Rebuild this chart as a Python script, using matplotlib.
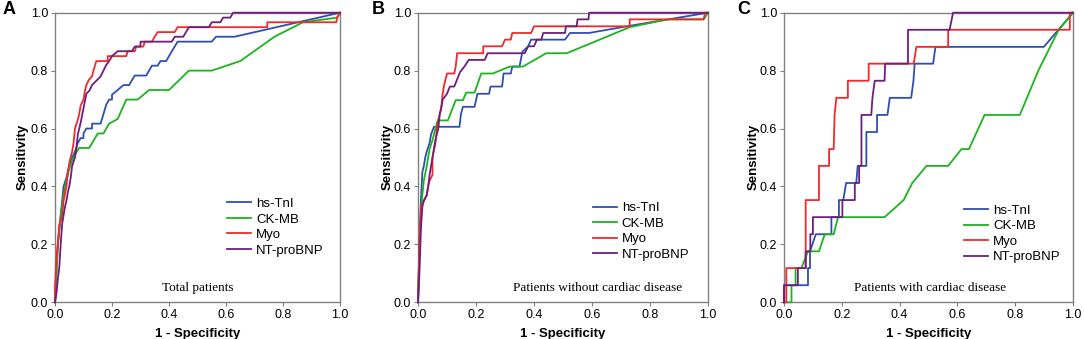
import numpy as np
import matplotlib
matplotlib.use("Agg")
import matplotlib.pyplot as plt

plt.rcParams["font.family"] = ["Liberation Sans", "DejaVu Sans"]

# ROC curve vertices: (1 - specificity, sensitivity)
MARKERS = ["hs-TnI", "CK-MB", "Myo", "NT-proBNP"]
COLORS = ["#2f4fb0", "#1cb41c", "#f42828", "#6c1f7c"]
PANELS = ["A", "B", "C"]
SUBTITLES = ["Total patients", "Patients without cardiac disease", "Patients with cardiac disease"]

A_TNI = [(0, 0), (0.005, 0.1), (0.01, 0.2), (0.02, 0.3), (0.03, 0.4), (0.04, 0.43), (0.05, 0.47),
         (0.06, 0.5), (0.07, 0.52), (0.08, 0.55), (0.09, 0.567), (0.1, 0.567), (0.1, 0.583), (0.11, 0.6),
         (0.13, 0.6), (0.13, 0.617), (0.16, 0.617), (0.165, 0.633), (0.17, 0.65), (0.18, 0.683),
         (0.19, 0.7), (0.2, 0.7), (0.2, 0.717), (0.22, 0.733), (0.24, 0.75), (0.26, 0.75), (0.27, 0.767),
         (0.28, 0.783), (0.32, 0.783), (0.33, 0.8), (0.34, 0.817), (0.36, 0.817), (0.37, 0.833),
         (0.39, 0.833), (0.4, 0.85), (0.41, 0.867), (0.42, 0.883), (0.43, 0.9), (0.55, 0.9),
         (0.565, 0.917), (0.63, 0.917), (1, 1)]
A_CKMB = [(0, 0), (0.005, 0.1), (0.01, 0.2), (0.02, 0.3), (0.03, 0.37), (0.04, 0.42), (0.05, 0.46),
          (0.06, 0.49), (0.07, 0.51), (0.085, 0.533), (0.12, 0.533), (0.15, 0.583), (0.17, 0.583),
          (0.19, 0.617), (0.22, 0.633), (0.25, 0.7), (0.29, 0.7), (0.33, 0.733), (0.4, 0.733),
          (0.47, 0.8), (0.55, 0.8), (0.65, 0.833), (0.77, 0.917), (0.87, 0.967), (0.99, 0.983), (1, 1)]
A_MYO = [(0, 0), (0, 0.05), (0.005, 0.15), (0.01, 0.2), (0.015, 0.27), (0.02, 0.28), (0.025, 0.3),
         (0.03, 0.35), (0.04, 0.4), (0.045, 0.45), (0.05, 0.48), (0.055, 0.5), (0.06, 0.52),
         (0.065, 0.55), (0.07, 0.6), (0.08, 0.63), (0.085, 0.65), (0.09, 0.68), (0.1, 0.7),
         (0.105, 0.73), (0.11, 0.75), (0.12, 0.77), (0.13, 0.78), (0.135, 0.8), (0.145, 0.833),
         (0.185, 0.833), (0.185, 0.85), (0.25, 0.85), (0.255, 0.867), (0.28, 0.867), (0.285, 0.883),
         (0.31, 0.883), (0.315, 0.9), (0.34, 0.9), (0.35, 0.917), (0.36, 0.933), (0.42, 0.933),
         (0.43, 0.95), (0.745, 0.95), (0.745, 0.967), (0.987, 0.967), (0.99, 0.983), (1, 1)]
A_BNP = [(0, 0), (0.005, 0.03), (0.01, 0.08), (0.015, 0.12), (0.02, 0.2), (0.025, 0.27), (0.03, 0.3),
         (0.035, 0.33), (0.04, 0.35), (0.045, 0.38), (0.05, 0.4), (0.055, 0.43), (0.06, 0.47),
         (0.07, 0.5), (0.075, 0.53), (0.08, 0.58), (0.09, 0.62), (0.1, 0.67), (0.11, 0.72),
         (0.12, 0.73), (0.13, 0.75), (0.14, 0.76), (0.15, 0.77), (0.16, 0.78), (0.17, 0.8),
         (0.18, 0.82), (0.19, 0.833), (0.2, 0.85), (0.22, 0.867), (0.27, 0.867), (0.28, 0.883),
         (0.3, 0.883), (0.3, 0.9), (0.41, 0.9), (0.42, 0.917), (0.45, 0.917), (0.47, 0.95),
         (0.54, 0.95), (0.55, 0.967), (0.58, 0.967), (0.59, 0.983), (0.615, 0.983), (0.625, 1.0), (1, 1)]

B_TNI = [(0, 0), (0.005, 0.2), (0.01, 0.35), (0.015, 0.45), (0.02, 0.47), (0.025, 0.5), (0.03, 0.52),
         (0.04, 0.55), (0.045, 0.58), (0.055, 0.606), (0.143, 0.606), (0.148, 0.65), (0.155, 0.675),
         (0.195, 0.675), (0.205, 0.72), (0.245, 0.72), (0.25, 0.745), (0.29, 0.745), (0.295, 0.79),
         (0.32, 0.79), (0.325, 0.814), (0.35, 0.814), (0.355, 0.84), (0.36, 0.865), (0.38, 0.884),
         (0.39, 0.907), (0.507, 0.907), (0.524, 0.93), (0.59, 0.93), (0.72, 0.953), (1, 1)]
B_CKMB = [(0, 0), (0.005, 0.2), (0.01, 0.3), (0.015, 0.37), (0.02, 0.42), (0.03, 0.47), (0.04, 0.53),
          (0.05, 0.56), (0.06, 0.6), (0.068, 0.628), (0.103, 0.628), (0.13, 0.698), (0.155, 0.698),
          (0.166, 0.724), (0.195, 0.724), (0.218, 0.79), (0.258, 0.79), (0.316, 0.814), (0.362, 0.814),
          (0.442, 0.86), (0.513, 0.86), (0.73, 0.95), (0.86, 0.977), (0.985, 0.977), (1, 1)]
B_MYO = [(0, 0), (0.005, 0.2), (0.01, 0.33), (0.02, 0.35), (0.03, 0.37), (0.035, 0.4), (0.04, 0.42),
         (0.05, 0.44), (0.05, 0.5), (0.06, 0.55), (0.065, 0.6), (0.07, 0.63), (0.08, 0.67),
         (0.085, 0.72), (0.09, 0.75), (0.095, 0.77), (0.1, 0.79), (0.125, 0.79), (0.13, 0.814),
         (0.135, 0.86), (0.225, 0.86), (0.225, 0.884), (0.29, 0.884), (0.3, 0.907), (0.32, 0.907),
         (0.325, 0.93), (0.39, 0.93), (0.4, 0.953), (0.73, 0.953), (0.73, 0.977), (0.985, 0.977),
         (0.99, 1.0), (1, 1)]
B_BNP = [(0, 0), (0.005, 0.1), (0.01, 0.25), (0.015, 0.33), (0.02, 0.35), (0.03, 0.37), (0.035, 0.4),
         (0.04, 0.44), (0.05, 0.5), (0.055, 0.53), (0.06, 0.56), (0.07, 0.6), (0.075, 0.65),
         (0.08, 0.67), (0.085, 0.7), (0.1, 0.72), (0.11, 0.745), (0.125, 0.745), (0.135, 0.77),
         (0.145, 0.795), (0.16, 0.814), (0.175, 0.837), (0.23, 0.837), (0.24, 0.86), (0.368, 0.86),
         (0.38, 0.884), (0.4, 0.884), (0.41, 0.907), (0.425, 0.907), (0.432, 0.93), (0.507, 0.93),
         (0.51, 0.953), (0.547, 0.953), (0.55, 0.977), (0.588, 0.977), (0.59, 1.0), (1, 1)]

C_TNI = [(0, 0), (0, 0.059), (0.083, 0.059), (0.083, 0.118), (0.09, 0.118), (0.09, 0.176),
         (0.11, 0.235), (0.164, 0.235), (0.164, 0.294), (0.19, 0.294), (0.19, 0.353), (0.205, 0.353),
         (0.215, 0.412), (0.25, 0.412), (0.255, 0.471), (0.285, 0.471), (0.285, 0.588), (0.322, 0.588),
         (0.322, 0.647), (0.358, 0.647), (0.366, 0.706), (0.44, 0.706), (0.448, 0.765), (0.452, 0.824),
         (0.516, 0.824), (0.524, 0.882), (0.899, 0.882), (1, 1)]
C_CKMB = [(0, 0), (0.026, 0), (0.026, 0.059), (0.04, 0.059), (0.04, 0.118), (0.06, 0.118),
          (0.083, 0.176), (0.121, 0.176), (0.141, 0.235), (0.172, 0.235), (0.187, 0.294),
          (0.348, 0.294), (0.414, 0.353), (0.444, 0.412), (0.493, 0.471), (0.568, 0.471),
          (0.614, 0.529), (0.64, 0.529), (0.694, 0.647), (0.816, 0.647), (0.88, 0.8), (0.95, 0.94), (1, 1)]
C_MYO = [(0, 0), (0.008, 0), (0.008, 0.118), (0.075, 0.118), (0.075, 0.353), (0.121, 0.353),
         (0.121, 0.471), (0.156, 0.471), (0.156, 0.529), (0.172, 0.529), (0.175, 0.647),
         (0.181, 0.706), (0.221, 0.706), (0.221, 0.765), (0.293, 0.765), (0.293, 0.824),
         (0.449, 0.824), (0.458, 0.882), (0.568, 0.882), (0.568, 0.941), (0.989, 0.941), (0.989, 1.0), (1, 1)]
C_BNP = [(0, 0), (0, 0.059), (0.048, 0.059), (0.048, 0.118), (0.075, 0.118), (0.075, 0.176),
         (0.091, 0.176), (0.091, 0.235), (0.1, 0.235), (0.1, 0.294), (0.202, 0.294), (0.202, 0.353),
         (0.245, 0.353), (0.245, 0.412), (0.26, 0.412), (0.26, 0.471), (0.268, 0.471), (0.268, 0.647),
         (0.302, 0.647), (0.306, 0.706), (0.314, 0.765), (0.348, 0.765), (0.35, 0.824), (0.429, 0.824),
         (0.429, 0.941), (0.573, 0.941), (0.585, 1.0), (1, 1)]

CURVES = [[A_TNI, A_CKMB, A_MYO, A_BNP],
          [B_TNI, B_CKMB, B_MYO, B_BNP],
          [C_TNI, C_CKMB, C_MYO, C_BNP]]

fig = plt.figure(figsize=(10.84, 3.39), dpi=100)

# axes boxes in figure pixels: left, right
boxes = [(55, 340), (418, 708), (784, 1073)]
legend_pos = [(0.58, 0.135), (0.58, 0.12), (0.6, 0.112)]
subtitle_x = [0.5, 0.62, 0.505]
letter_x = [3, 372, 737]
ylabel_x = [23, 388, 754]

W, H = 1084, 339
for i, (l, r) in enumerate(boxes):
    ax = fig.add_axes([l / W, 1 - 302.3 / H, (r - l) / W, (302.3 - 12.7) / H])
    for curve, name, col in zip(CURVES[i], MARKERS, COLORS):
        xs = [p[0] for p in curve]
        ys = [p[1] for p in curve]
        ax.plot(xs, ys, color=col, lw=1.3, label=name, clip_on=False, zorder=3)
    ax.set_xlim(0, 1)
    ax.set_ylim(0, 1)
    ticks = np.arange(0, 1.01, 0.2)
    ax.set_xticks(ticks)
    ax.set_yticks(ticks)
    ax.set_xticklabels([f"{t:.1f}" for t in ticks])
    ax.set_yticklabels([f"{t:.1f}" for t in ticks])
    ax.tick_params(labelsize=9, length=3, width=0.8, color="#808080", pad=2)
    for s in ax.spines.values():
        s.set_color("#808080")
        s.set_linewidth(1.0)
    ax.set_xlabel("1 - Specificity", fontsize=9.5, fontweight="bold", labelpad=5)
    fig.text(ylabel_x[i] / W, 1 - 157 / H, "Sensitivity", rotation=90, fontsize=9.5,
             fontweight="bold", ha="center", va="center")
    ax.text(subtitle_x[i], 0.05, SUBTITLES[i], transform=ax.transAxes, ha="center", va="center",
            fontsize=9.5, family="Liberation Serif")
    ax.legend(loc="lower left", bbox_to_anchor=legend_pos[i], frameon=False, fontsize=9.5,
              handlelength=1.8, handletextpad=0.4, labelspacing=0.25, borderpad=0)
    fig.text(letter_x[i] / W, 1 - 1 / H, PANELS[i], fontsize=13, fontweight="bold", ha="left", va="top")

fig.savefig("out.png", dpi=100)
